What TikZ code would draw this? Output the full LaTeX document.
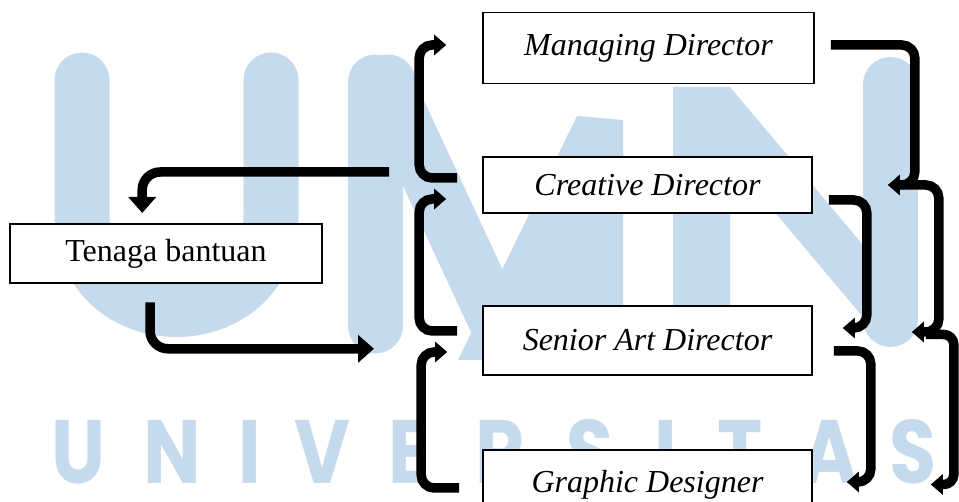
\documentclass[tikz,border=0pt]{standalone}
\usepackage{fontspec}
\setmainfont{Liberation Serif}
\newfontfamily\wmfont{Poppins}
\usetikzlibrary{arrows.meta,calc}
\definecolor{wmblue}{RGB}{197,218,237}
\begin{document}
\begin{tikzpicture}[x=1pt,y=-1pt,
  box/.style={draw=black, line width=1.6pt, fill=white, inner sep=0pt,
              font=\fontsize{32}{38}\selectfont},
  conn/.style={line width=9.5pt, rounded corners=13pt},
  hook/.style={conn, -{Triangle[length=12pt,width=20pt]}},
  bigarrow/.style={line width=9.5pt, rounded corners=18pt,
                   -{Triangle[length=16pt,width=27pt]}},
  wmletter/.style={text=wmblue, anchor=base, inner sep=0pt,
                   font=\wmfont\bfseries\fontsize{90}{90}\selectfont}]

% page
\fill[white] (0,0) rectangle (959,502);
\useasboundingbox (0,0) rectangle (959,502);
\clip (0,0) rectangle (959,502);

% ---- background logo: U M N ----
\draw[wmblue, line width=55pt, line cap=round]
  (82,80) -- (82,215) .. controls (82,341) and (271,341) .. (271,215) -- (271,80);
\draw[wmblue, line width=55pt, line cap=round] (375,82) -- (375,326);
\fill[wmblue] (388,82) circle[radius=27.5pt];
\draw[wmblue, line width=55pt] (385,82) -- (505,340);
\fill[wmblue] (458,360) -- (577,116) -- (623,120) -- (623,360) -- cycle;
\fill[wmblue] (673,360) -- (673,87) -- (730,87) -- (863,245) -- (863,317)
  -- (730,159) -- (730,360) -- cycle;
\draw[wmblue, line width=55pt, line cap=round] (890.5,84.5) -- (890.5,319.5);

% ---- background word ----
\foreach \ch/\x [count=\i] in {U/78,N/172,I/250,V/322,E/409,R/500,S/590,I/666,T/740,A/830,S/913}
  \node[wmletter] (wm\i) at (\x,483) {\scalebox{0.85}[1]{\ch}};

% ---- positions ----
\node[box, minimum width=331pt, minimum height=71pt] (md)  at (648.5,48)  {\itshape Managing Director};
\node[box, minimum width=329pt, minimum height=56pt] (cd)  at (647.5,185) {\itshape Creative Director};
\node[box, minimum width=329pt, minimum height=69pt] (sad) at (647.5,340.5) {\itshape Senior Art Director};
\node[box, minimum width=329pt, minimum height=70pt] (gd)  at (647.5,485) {\itshape Graphic Designer};
\node[box, minimum width=312pt, minimum height=59pt] (ten) at (166,253.5) {Tenaga bantuan};

% ---- right-hand chain ----
\draw[hook] ($(md.east)+(16,-3)$) -- ++(84,0) -- ++(0,140) -- ++(-27,0);
\draw[hook] ($(cd.east)+(90,0)$) -- ++(36,0) -- ++(0,147) -- ++(-27,0);
\draw[hook, rounded corners=10pt] ($(sad.east)+(113,-6)$) -- ++(28,0) -- ++(0,150) -- ++(-23,0);

% ---- right-hand inner links ----
\draw[hook] ($(cd.east)+(16,15)$) -- ++(38,0) -- ++(0,128) -- ++(-24,0);
\draw[hook] ($(sad.east)+(21,10.5)$) -- ++(37,0) -- ++(0,131) -- ++(-24,0);

% ---- left-hand links upward ----
\draw[hook] ($(cd.west)+(-25,-7)$) -- ++(-38,0) -- ++(0,-133) -- ++(27,0);
\draw[hook] ($(sad.west)+(-25,-9.5)$) -- ++(-38,0) -- ++(0,-132) -- ++(27,0);
\draw[hook] ($(gd.west)+(-23,3)$) -- ++(-38,0) -- ++(0,-136) -- ++(26,0);

% ---- links with the helper ----
\draw[bigarrow] ($(cd.west)+(-93,-13)$) -- ++(-247,0) -- ++(0,41);
\draw[bigarrow] ($(ten.south)+(-16,18.5)$) -- ++(0,46.5) -- ++(224,0);

\end{tikzpicture}
\end{document}
